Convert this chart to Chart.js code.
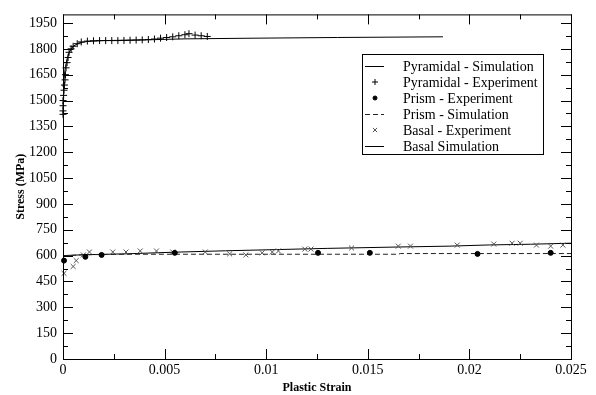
<!DOCTYPE html>
<html>
<head>
<meta charset="utf-8">
<script src="https://cdn.jsdelivr.net/npm/chart.js@4.4.1/dist/chart.umd.min.js"></script>
<style>
  html, body { margin: 0; padding: 0; background: #fff; }
  #wrap { width: 596px; height: 395px; }
</style>
</head>
<body>
<div id="wrap"><canvas id="c" width="596" height="395"></canvas></div>
<script>
// tick labels
const xTicks = [0, 0.005, 0.01, 0.015, 0.02, 0.025];
const xTickLabels = ['0', '0.005', '0.01', '0.015', '0.02', '0.025'];
const yTicks = [0, 150, 300, 450, 600, 750, 900, 1050, 1200, 1350, 1500, 1650, 1800, 1950];

// Pyramidal - Simulation
const pyrSimStrain = [0, 0.0001, 0.0002, 0.0003, 0.0005, 0.0008, 0.0012, 0.002, 0.004, 0.006, 0.0095, 0.0135, 0.0187];
const pyrSimStress = [1580, 1680, 1740, 1780, 1815, 1835, 1843, 1848, 1852, 1858, 1862, 1866, 1870];

// Pyramidal - Experiment
const pyrExpStrain = [0, 0, 0, 0, 0.00003, 0.00005, 0.00007, 0.0001, 0.00012, 0.00015, 0.0002, 0.00025, 0.0003, 0.0004, 0.0005,
  0.0007, 0.0009, 0.0012, 0.0015, 0.0018, 0.0021, 0.0024, 0.0027, 0.003, 0.0033, 0.0036, 0.0039, 0.0042, 0.0045, 0.0048,
  0.0051, 0.0054, 0.0057, 0.006, 0.0062, 0.0065, 0.0068, 0.0071];
const pyrExpStress = [1420, 1440, 1470, 1500, 1530, 1560, 1590, 1620, 1650, 1690, 1720, 1750, 1780, 1800, 1815,
  1830, 1840, 1845, 1847, 1848, 1848, 1848, 1848, 1849, 1850, 1851, 1852, 1854, 1857, 1862,
  1866, 1870, 1876, 1882, 1888, 1880, 1876, 1872];

// Prism - Experiment
const priExpStrain = [0.00005, 0.0011, 0.0019, 0.0055, 0.01255, 0.0151, 0.0204, 0.024];
const priExpStress = [571, 593, 604, 616, 616, 616, 610, 616];

// Prism - Simulation
const priSimStrain = [0, 0.0005, 0.001, 0.003, 0.0165, 0.0166, 0.025];
const priSimStress = [598, 602, 605, 608, 608, 612, 612];

// Basal - Experiment
const basExpStrain = [0.00005, 0.0005, 0.00065, 0.001, 0.0013, 0.00245, 0.0031, 0.0038, 0.0046, 0.0054, 0.007, 0.0082,
  0.009, 0.0098, 0.0103, 0.0106, 0.0119, 0.0122, 0.0142, 0.0165, 0.0171, 0.0194, 0.0212, 0.0221, 0.0225, 0.0233, 0.024, 0.0246];
const basExpStress = [497, 537, 571, 604, 621, 621, 621, 627, 627, 621, 621, 610,
  604, 616, 621, 627, 638, 638, 644, 655, 655, 661, 667, 672, 672, 661, 655, 661];

// Basal Simulation
const basSimStrain = [0, 0.001, 0.003, 0.0055, 0.008, 0.0105, 0.013, 0.0165, 0.019, 0.021, 0.023, 0.025];
const basSimStress = [600, 605, 610, 620, 628, 635, 642, 650, 655, 662, 666, 672];

const pts = (xs, ys) => xs.map((x, i) => ({ x: x, y: ys[i] }));
const serif = '"Liberation Serif", "DejaVu Serif", serif';

const datasets = [
  { label: 'Pyramidal - Simulation', data: pts(pyrSimStrain, pyrSimStress), showLine: true, borderColor: '#000', borderWidth: 1, pointRadius: 0 },
  { label: 'Pyramidal - Experiment', data: pts(pyrExpStrain, pyrExpStress), showLine: false, pointStyle: 'cross', pointRadius: 3.5, borderColor: '#000', borderWidth: 1 },
  { label: 'Prism - Experiment', data: pts(priExpStrain, priExpStress), showLine: false, pointStyle: 'circle', pointRadius: 2.5, backgroundColor: '#000', borderColor: '#000', borderWidth: 1 },
  { label: 'Prism - Simulation', data: pts(priSimStrain, priSimStress), showLine: true, borderColor: '#222', borderWidth: 1, borderDash: [5, 3], pointRadius: 0 },
  { label: 'Basal - Experiment', data: pts(basExpStrain, basExpStress), showLine: false, pointStyle: 'crossRot', pointRadius: 3.5, borderColor: '#555', borderWidth: 1 },
  { label: 'Basal Simulation', data: pts(basSimStrain, basSimStress), showLine: true, borderColor: '#000', borderWidth: 1, pointRadius: 0 }
];
datasets.forEach(d => { d.clip = 6; });

// frame with inward ticks on all four sides
const frameTicks = {
  id: 'frameTicks',
  afterDraw(chart) {
    const { ctx, chartArea: a, scales } = chart;
    ctx.save();
    ctx.strokeStyle = '#000';
    ctx.lineWidth = 1;
    ctx.strokeRect(a.left + 0.5, a.top + 0.5, a.right - a.left, a.bottom - a.top);
    ctx.beginPath();
    for (let v = 0; v <= 0.025 + 1e-9; v += 0.0025) {
      const major = Math.abs(v / 0.005 - Math.round(v / 0.005)) < 1e-6;
      const len = major ? 10 : 5;
      const px = Math.round(scales.x.getPixelForValue(v)) + 0.5;
      ctx.moveTo(px, a.bottom); ctx.lineTo(px, a.bottom - len);
      ctx.moveTo(px, a.top); ctx.lineTo(px, a.top + len);
    }
    for (let v = 0; v <= 2000; v += 75) {
      const major = v % 150 === 0;
      const len = major ? 10 : 5;
      const py = Math.round(scales.y.getPixelForValue(v)) + 0.5;
      ctx.moveTo(a.left, py); ctx.lineTo(a.left + len, py);
      ctx.moveTo(a.right, py); ctx.lineTo(a.right - len, py);
    }
    ctx.stroke();
    ctx.restore();
  }
};

// boxed legend inside the plot
const boxLegend = {
  id: 'boxLegend',
  afterDraw(chart) {
    const { ctx } = chart;
    const bx = 362, by = 54, bw = 181, bh = 100, row = 16;
    ctx.save();
    ctx.fillStyle = '#fff';
    ctx.fillRect(bx, by, bw, bh);
    ctx.strokeStyle = '#000';
    ctx.lineWidth = 1;
    ctx.strokeRect(bx + 0.5, by + 0.5, bw, bh);
    ctx.font = '14px ' + serif;
    ctx.textBaseline = 'middle';
    chart.data.datasets.forEach((d, i) => {
      const y = by + 12 + i * row;
      if (d.showLine) {
        ctx.save();
        ctx.strokeStyle = d.borderColor;
        ctx.setLineDash(d.borderDash || []);
        ctx.beginPath();
        ctx.moveTo(365, y + 0.5); ctx.lineTo(384, y + 0.5);
        ctx.stroke();
        ctx.restore();
      } else {
        ctx.strokeStyle = d.borderColor;
        ctx.fillStyle = d.backgroundColor || d.borderColor;
        Chart.helpers.drawPoint(ctx, { pointStyle: d.pointStyle, radius: d.pointStyle === 'circle' ? 2 : 3, borderWidth: 1, rotation: 0 }, 375, y);
      }
      ctx.fillStyle = '#000';
      ctx.fillText(d.label, 403, y + 1);
    });
    ctx.restore();
  }
};

new Chart(document.getElementById('c'), {
  type: 'scatter',
  data: { datasets },
  options: {
    responsive: false,
    animation: false,
    layout: { padding: { top: 4, right: 25, left: 0, bottom: 0 } },
    plugins: { legend: { display: false }, tooltip: { enabled: false } },
    scales: {
      x: {
        type: 'linear', min: 0, max: 0.025,
        afterBuildTicks: s => { s.ticks = xTicks.map(v => ({ value: v })); },
        afterFit: s => { s.height = 36; },
        grid: { display: false, drawTicks: false },
        border: { display: false },
        ticks: { callback: (v, i) => xTickLabels[i], color: '#000', font: { family: serif, size: 14 }, padding: 3, maxRotation: 0, autoSkip: false },
        title: { display: true, text: 'Plastic Strain', color: '#000', font: { family: serif, size: 12, weight: 'bold' }, padding: { top: 0, bottom: 0 } }
      },
      y: {
        type: 'linear', min: 0, max: 2000,
        afterBuildTicks: s => { s.ticks = yTicks.map(v => ({ value: v })); },
        afterFit: s => { s.width = 63; },
        grid: { display: false, drawTicks: false },
        border: { display: false },
        ticks: { callback: v => String(v), color: '#000', font: { family: serif, size: 14 }, padding: 6, autoSkip: false },
        title: { display: true, text: 'Stress (MPa)', color: '#000', font: { family: serif, size: 12, weight: 'bold' }, padding: { top: 14, bottom: 0 } }
      }
    }
  },
  plugins: [frameTicks, boxLegend]
});
</script>
</body>
</html>
